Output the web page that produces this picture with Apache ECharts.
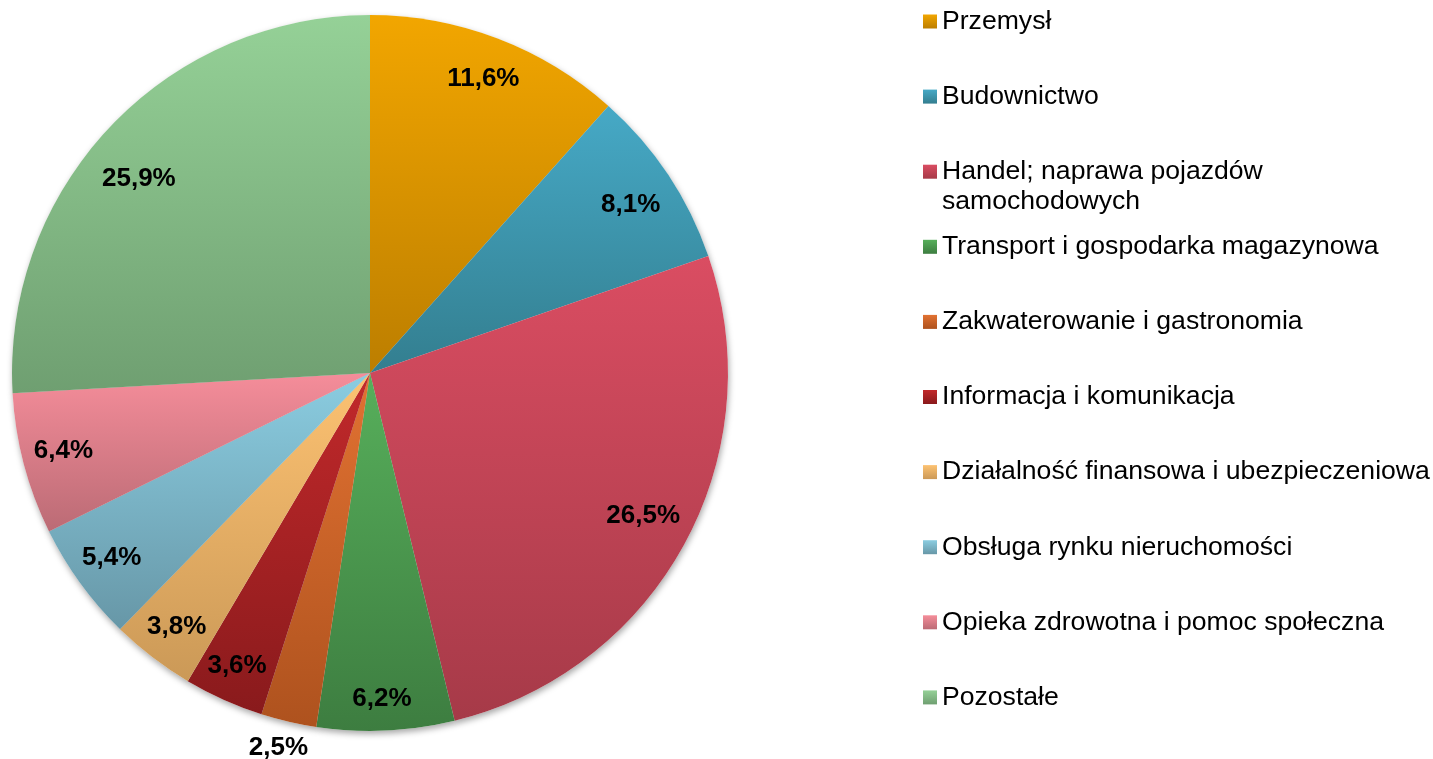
<!DOCTYPE html>
<html>
<head>
<meta charset="utf-8">
<script src="https://cdn.jsdelivr.net/npm/echarts@6/dist/echarts.min.js"></script>
<style>
html,body{margin:0;padding:0;background:#fff;}
#chart{width:1433px;height:759px;}
</style>
</head>
<body>
<div id="chart"></div>
<script>
const categories = [
  'Przemysł',
  'Budownictwo',
  'Handel; naprawa pojazdów\nsamochodowych',
  'Transport i gospodarka magazynowa',
  'Zakwaterowanie i gastronomia',
  'Informacja i komunikacja',
  'Działalność finansowa i ubezpieczeniowa',
  'Obsługa rynku nieruchomości',
  'Opieka zdrowotna i pomoc społeczna',
  'Pozostałe'
];
const values = [11.6, 8.1, 26.5, 6.2, 2.5, 3.6, 3.8, 5.4, 6.4, 25.9];
const outsideLabelIndex = [4];

const topColors = ['#F2A600', '#46A9C6', '#DA4D62', '#57AF5B', '#E27232', '#C2292B', '#FDC272', '#8BCDE1', '#F58D9A', '#95D197'];
const bottomColors = ['#BC7E00', '#337E8F', '#A63A48', '#3D7D40', '#AE521E', '#891A1C', '#CB9957', '#6797A7', '#BB6B75', '#6F9F71'];
// small label nudges (px) to follow the reference's label placement
const labelNudge = [[0, 3], [-4, 8], [-6, -9], [-2, 8], [-4, 0], [-3, 3], [0, 1], [-1, -2], [1, -3], [0, 24]];

const fmt = v => v.toFixed(1).replace('.', ',') + '%';

const cx = 370, cy = 373, R = 358;

const mainData = categories.map((name, i) => ({
  name: name,
  value: values[i],
  itemStyle: {
    color: {
      type: 'linear', x: 0, y: 0, x2: 0, y2: 1,
      colorStops: [
        { offset: 0, color: topColors[i] },
        { offset: 1, color: bottomColors[i] }
      ]
    }
  }
}));

const labelFont = { fontFamily: 'Liberation Sans, Arial, sans-serif', fontWeight: 'bold', fontSize: 26, color: '#000' };

const innerLabelData = categories.map((name, i) => ({
  name: name,
  value: values[i],
  label: { show: outsideLabelIndex.indexOf(i) < 0, offset: labelNudge[i] }
}));
const outerLabelData = categories.map((name, i) => ({
  name: name,
  value: values[i],
  label: { show: outsideLabelIndex.indexOf(i) >= 0, offset: labelNudge[i] }
}));

const legendTop0 = 21.5, legendStep = 75.1;
const legends = categories.map((name, i) => {
  const multi = name.indexOf('\n') >= 0;
  const center = legendTop0 + i * legendStep;
  return {
    show: true,
    orient: 'vertical',
    left: 923,
    top: multi ? center - 45 : center - 15,
    padding: 0,
    itemWidth: 14,
    itemHeight: 14,
    icon: 'rect',
    selectedMode: false,
    data: [name],
    formatter: multi ? (n => '\n' + n) : (n => n),
    textStyle: {
      fontFamily: 'Liberation Sans, Arial, sans-serif',
      fontSize: 26.6,
      color: '#000',
      lineHeight: 30
    }
  };
});

const chart = echarts.init(document.getElementById('chart'), null, { renderer: 'canvas' });
chart.setOption({
  backgroundColor: '#fff',
  animation: false,
  legend: legends,
  series: [
    {
      name: 'main',
      type: 'pie',
      center: [cx, cy],
      radius: [0, R],
      startAngle: 90,
      clockwise: true,
      z: 3,
      silent: true,
      label: { show: false },
      labelLine: { show: false },
      itemStyle: { borderWidth: 0 },
      data: mainData
    },
    {
      name: 'shadow',
      type: 'pie',
      center: [cx, cy],
      radius: [0, R],
      startAngle: 90,
      z: 1,
      silent: true,
      label: { show: false },
      labelLine: { show: false },
      itemStyle: { color: '#ffffff', shadowBlur: 6, shadowColor: 'rgba(0,0,0,0.35)', shadowOffsetX: 1, shadowOffsetY: 3 },
      data: values.map((v, i) => ({ name: categories[i], value: v }))
    },
    {
      name: 'labels',
      type: 'pie',
      center: [cx, cy],
      radius: [272, R],
      startAngle: 90,
      z: 5,
      silent: true,
      itemStyle: { color: 'rgba(0,0,0,0)' },
      label: Object.assign({ position: 'inside', formatter: p => fmt(p.value) }, labelFont),
      labelLine: { show: false },
      data: innerLabelData
    },
    {
      name: 'outerLabels',
      type: 'pie',
      center: [cx, cy],
      radius: [364, 400],
      startAngle: 90,
      z: 5,
      silent: true,
      itemStyle: { color: 'rgba(0,0,0,0)' },
      label: Object.assign({ position: 'inside', formatter: p => fmt(p.value) }, labelFont),
      labelLine: { show: false },
      data: outerLabelData
    }
  ]
});
</script>
</body>
</html>
